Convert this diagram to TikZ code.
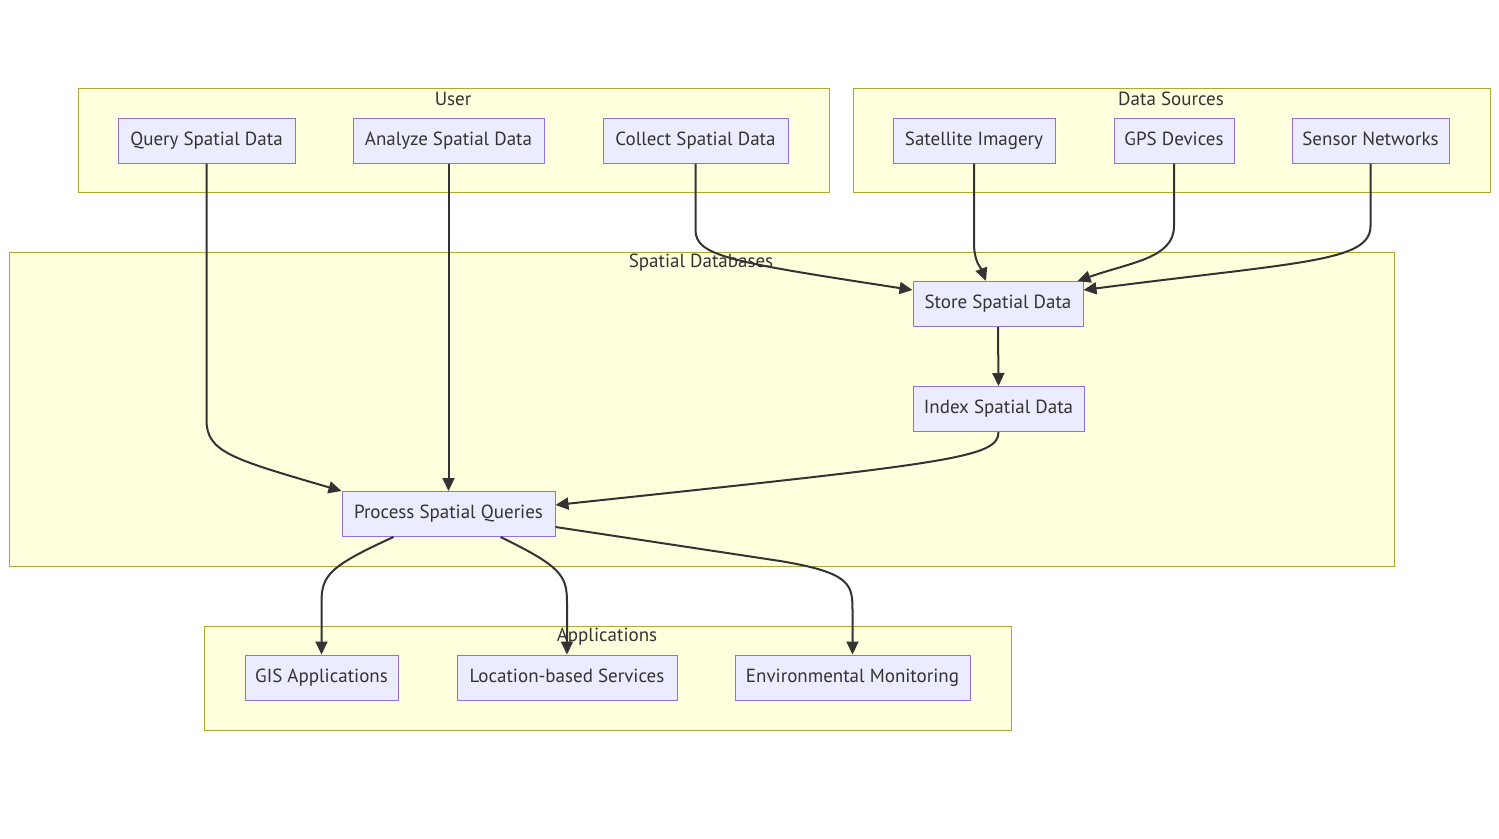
\documentclass[tikz,border=0pt]{standalone}
\usepackage{fontspec}
\setmainfont{PT Sans}
\usetikzlibrary{arrows.meta,calc}
\definecolor{sgfill}{HTML}{FFFFDE}
\definecolor{sgline}{HTML}{AAAA33}
\definecolor{nfill}{HTML}{ECECFF}
\definecolor{nline}{HTML}{9370DB}
\definecolor{txt}{HTML}{333333}
\tikzset{
  group/.style={draw=sgline, fill=sgfill, line width=1pt},
  glabel/.style={text=txt, font=\fontsize{19}{22}\selectfont, inner sep=0pt},
  box/.style={draw=nline, fill=nfill, line width=1pt, text=txt, font=\fontsize{19}{22}\selectfont, minimum height=45pt, inner sep=0pt, text height=13pt, text depth=4pt},
  edge/.style={draw=txt, line width=2pt, -{Triangle[length=13pt,width=12pt]}},
}
\begin{document}
\begin{tikzpicture}[x=1pt,y=-1pt]
\useasboundingbox (0,0) rectangle (1499,838);
% subgraphs
\draw[group] (78,88) rectangle (829,192);
\node[glabel] (gU) at (453,99) {User};
\draw[group] (853,88) rectangle (1490,192);
\node[glabel] (gD) at (1171,99) {Data Sources};
\draw[group] (9,252) rectangle (1394,566);
\draw[group] (204,626) rectangle (1011,730);
% nodes
\node[box, minimum width=177pt] (Q) at (206.5,140.5) {Query Spatial Data};
\node[box, minimum width=191pt] (A) at (448.5,140.5) {Analyze Spatial Data};
\node[box, minimum width=185pt] (C) at (695.5,140.5) {Collect Spatial Data};
\node[box, minimum width=162pt] (Sat) at (974,140.5) {Satellite Imagery};
\node[box, minimum width=120pt] (G) at (1174,140.5) {GPS Devices};
\node[box, minimum width=157pt] (Sen) at (1370.5,140.5) {Sensor Networks};
\node[box, minimum width=170pt] (St) at (998,304) {Store Spatial Data};
\node[box, minimum width=171pt] (I) at (998.5,409) {Index Spatial Data};
\node[box, minimum width=213pt] (P) at (448.5,514) {Process Spatial Queries};
\node[box, minimum width=153pt] (GIS) at (321.5,677.5) {GIS Applications};
\node[box, minimum width=220pt] (L) at (567,677.5) {Location-based Services};
\node[box, minimum width=235pt] (E) at (852.5,677.5) {Environmental Monitoring};
% edges
\draw[edge] (Q.south) -- (206.5,420) .. controls (206.5,452) and (232,459) .. (P.north west);
\draw[edge] (A.south) -- (P.north);
\draw[edge] (C.south) -- (695.5,230) .. controls (695.5,256) and (730,262) .. ($(St.west)+(0,-14)$);
\draw[edge] (Sat.south) -- (974,243) .. controls (974,262) and (981,268) .. ($(St.north)+(-12,0)$);
\draw[edge] (G.south) -- (1174,226) .. controls (1174,258) and (1132,262) .. ($(St.north east)+(-6,0)$);
\draw[edge] (Sen.south) -- (1370.5,226) .. controls (1370.5,262) and (1300,262) .. ($(St.east)+(0,-14)$);
\draw[edge] (St.south) -- (I.north);
\draw[edge] (I.south) .. controls (998.5,458) and (950,463) .. ($(P.east)+(0,-9)$);
\draw[edge] ($(P.south)+(-55,0)$) .. controls (330,566) and (321.5,575) .. (321.5,602) -- (GIS.north);
\draw[edge] ($(P.south)+(52,0)$) .. controls (560,566) and (567,575) .. (567,602) -- (L.north);
\draw[edge] ($(P.east)+(0,13)$) -- (780,561) .. controls (852.5,573) and (852.5,585) .. (852.5,612) -- (E.north);
% labels drawn on top of edges
\node[glabel] (gS) at (701,263) {Spatial Databases};
\node[glabel] (gA) at (607,637) {Applications};
\end{tikzpicture}
\end{document}
